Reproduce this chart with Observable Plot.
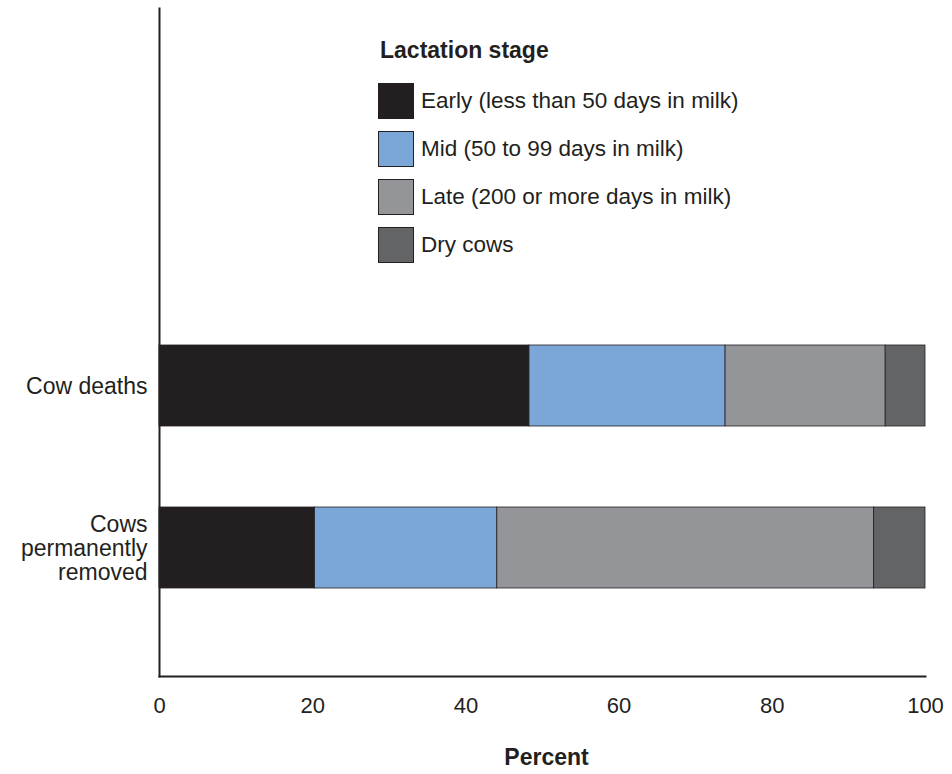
<!DOCTYPE html>
<html>
<head>
<meta charset="utf-8">
<script src="https://cdn.jsdelivr.net/npm/d3@7"></script>
<script src="https://cdn.jsdelivr.net/npm/@observablehq/plot@0.6"></script>
<style>
  body { margin: 0; background: #fff; font-family: "Liberation Sans", Arial, sans-serif; color: #231f20; }
  #wrap { position: relative; width: 952px; height: 774px; }
  #legend { position: absolute; left: 378px; top: 37px; font-size: 22.5px; }
  #legend .title { font-weight: bold; font-size: 23px; margin-left: 2px; height: 40px; line-height: 26px; }
  #legend .row { display: flex; align-items: center; height: 48px; }
  #legend .sw { width: 36px; height: 36px; box-sizing: border-box; border: 1px solid #231f20; margin-right: 7px; }
</style>
</head>
<body>
<div id="wrap"></div>
<script>
const groups = ["Cow deaths", "Cows permanently removed"];
const groupLabels = ["Cow deaths", "Cows\npermanently\nremoved"];
const stages = ["Early (less than 50 days in milk)", "Mid (50 to 99 days in milk)", "Late (200 or more days in milk)", "Dry cows"];
const stageColors = ["#231f20", "#7ba7d8", "#939598", "#636466"];
const deaths = [48.3, 25.6, 20.9, 5.2];
const removed = [20.3, 23.8, 49.2, 6.7];
const xTicks = [0, 20, 40, 60, 80, 100];
const legendTitle = "Lactation stage";
const xLabel = "Percent";

const seriesByGroup = [deaths, removed];
const data = [];
groups.forEach((g, gi) => stages.forEach((s, si) => data.push({group: g, stage: s, value: seriesByGroup[gi][si]})));

const chart = Plot.plot({
  width: 952,
  height: 774,
  marginTop: 8,
  marginBottom: 98,
  marginLeft: 159,
  marginRight: 27,
  style: {fontFamily: "'Liberation Sans', Arial, sans-serif", color: "#231f20", background: "#fff"},
  x: {domain: [0, 100], ticks: xTicks},
  y: {domain: groups, range: [263.5, 668.5], padding: 0.5},
  color: {domain: stages, range: stageColors},
  marks: [
    Plot.barX(data, Plot.stackX({x: "value", y: "group", fill: "stage", order: stages, stroke: "#231f20", strokeWidth: 0.8})),
    Plot.axisY({tickSize: 0, tickPadding: 12, fontSize: 23, lineHeight: 1.05, label: null,
      tickFormat: d => groupLabels[groups.indexOf(d)]}),
    Plot.axisX({ticks: xTicks, tickSize: 0, tickPadding: 21, fontSize: 22, label: null}),
    Plot.frame({anchor: "left", stroke: "#231f20", strokeWidth: 2}),
    Plot.frame({anchor: "bottom", stroke: "#231f20", strokeWidth: 2}),
    Plot.text([xLabel], {frameAnchor: "bottom", dy: 88, dx: 4, fontSize: 23, fontWeight: "bold", fill: "#231f20"})
  ]
});
const wrap = document.getElementById("wrap");
wrap.appendChild(chart);

const legend = document.createElement("div");
legend.id = "legend";
const t = document.createElement("div");
t.className = "title";
t.textContent = legendTitle;
legend.appendChild(t);
stages.forEach((s, i) => {
  const row = document.createElement("div");
  row.className = "row";
  const sw = document.createElement("div");
  sw.className = "sw";
  sw.style.background = stageColors[i];
  const lab = document.createElement("span");
  lab.textContent = s;
  row.appendChild(sw);
  row.appendChild(lab);
  legend.appendChild(row);
});
wrap.appendChild(legend);
</script>
</body>
</html>
